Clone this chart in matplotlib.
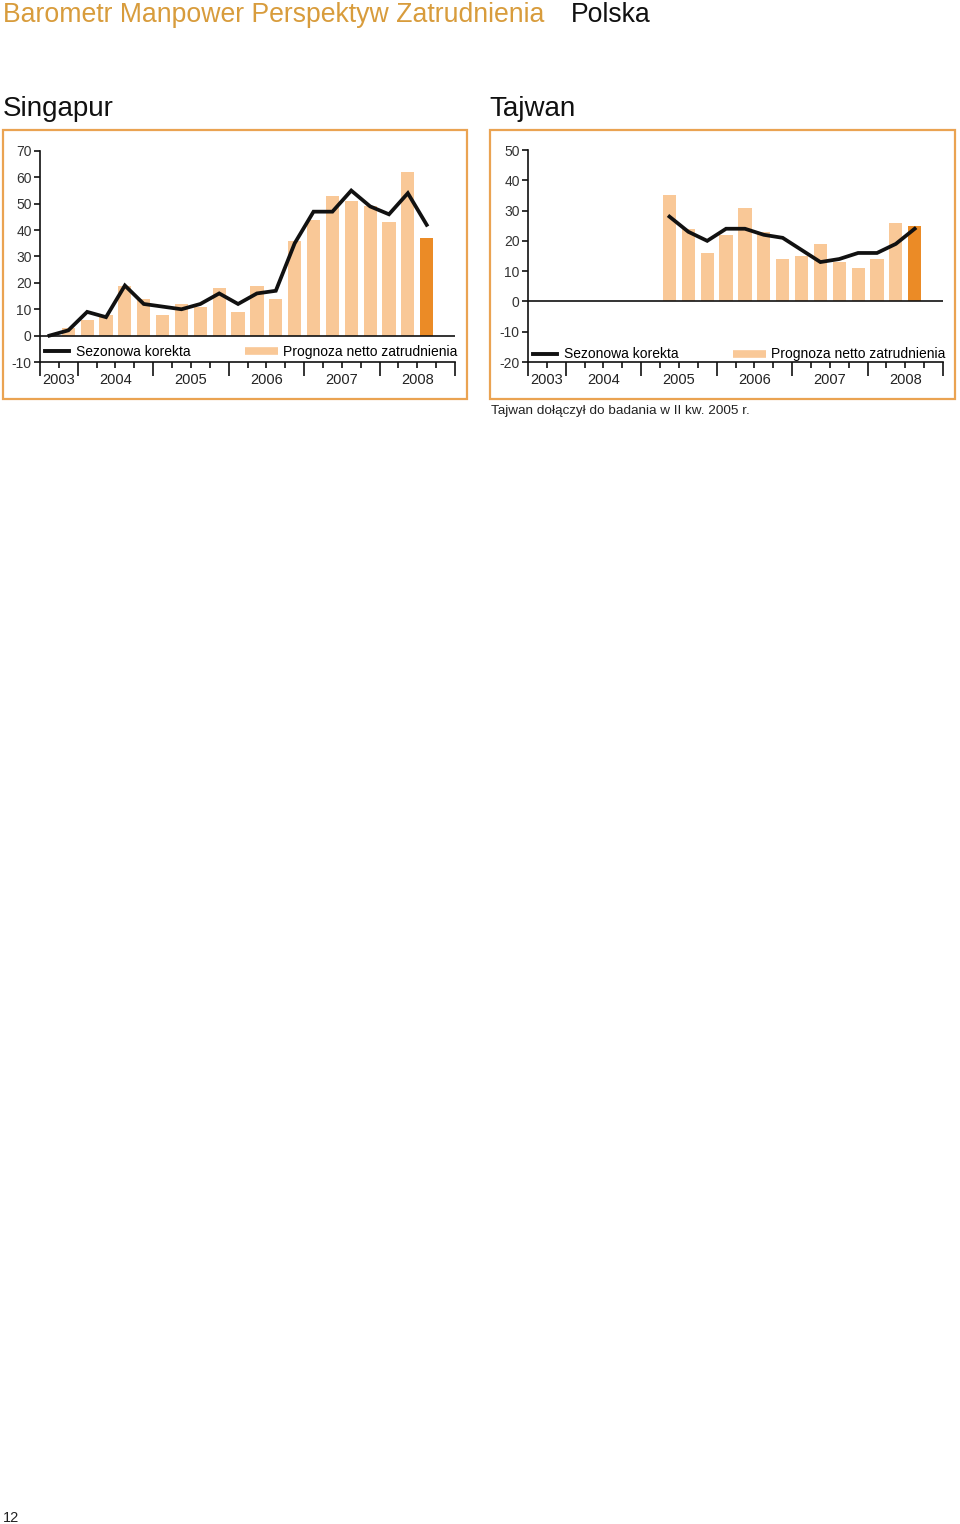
import numpy as np
import matplotlib
matplotlib.use('Agg')
import matplotlib.pyplot as plt
from matplotlib.lines import Line2D
from matplotlib.patches import Rectangle

plt.rcParams['font.family'] = ['Liberation Sans', 'DejaVu Sans']
plt.rcParams['axes.unicode_minus'] = False

# quarter slots on the x axis: 2003 Q3 .. 2008 Q4
years = ['2003', '2004', '2005', '2006', '2007', '2008']
year_quarters = [2, 4, 4, 4, 4, 4]

# Singapur, 2003 Q3 .. 2008 Q3
sg_start = 0
sg_bars = [0, 3, 6, 8, 19, 14, 8, 12, 11, 18, 9, 19, 14, 36, 44, 53, 51, 49, 43, 62, 37]
sg_line = [0, 2, 9, 7, 19, 12, 11, 10, 12, 16, 12, 16, 17, 35, 47, 47, 55, 49, 46, 54, 42]

# Tajwan, 2005 Q2 .. 2008 Q3
tw_start = 7
tw_bars = [35, 24, 16, 22, 31, 23, 14, 15, 19, 13, 11, 14, 26, 25]
tw_line = [28, 23, 20, 24, 24, 22, 21, 17, 13, 14, 16, 16, 19, 24]

PEACH = '#F9C897'
ORANGE = '#EB8B26'
BOX = '#EAA352'
GOLD = '#D89C3C'
INK = '#111111'

W, H = 960, 1524


def fx(px):
    return px / W


def fy(py):
    return 1 - py / H


def draw_panel(ax, start, bars, line, ylim, leg_y):
    n_slots = sum(year_quarters)
    x = np.arange(start, start + len(bars))
    colors = [PEACH] * (len(bars) - 1) + [ORANGE]
    ax.bar(x, bars, width=0.7, color=colors, zorder=2)
    ax.axhline(0, color=INK, lw=1.2, zorder=3)
    ax.plot(x, line, color=INK, lw=2.7, zorder=4, solid_joinstyle='miter')

    ax.set_xlim(-0.5, n_slots - 0.5)
    ax.set_ylim(*ylim)
    ax.set_yticks(np.arange(ylim[0], ylim[1] + 1, 10))
    for s in ['top', 'right']:
        ax.spines[s].set_visible(False)
    for s in ['left', 'bottom']:
        ax.spines[s].set_linewidth(1.2)
        ax.spines[s].set_color(INK)

    bounds = np.cumsum([0] + year_quarters) - 0.5
    minor = [b for b in np.arange(-0.5, n_slots) if b not in bounds]
    ax.set_xticks(bounds)
    ax.set_xticks(minor, minor=True)
    ax.set_xticklabels([])
    ax.tick_params(axis='x', which='major', length=10, width=1.2, color=INK)
    ax.tick_params(axis='x', which='minor', length=4.5, width=1.2, color=INK)
    ax.tick_params(axis='y', length=4.5, width=1.2, color=INK, pad=1.5,
                   labelsize=10, labelcolor='#333333')

    for i, yr in enumerate(years):
        c = (bounds[i] + bounds[i + 1]) / 2
        ax.annotate(yr, xy=(c, 0), xycoords=ax.get_xaxis_transform(),
                    xytext=(0, -13), textcoords='offset points',
                    ha='center', va='center', fontsize=10.5, color='#222222')

    h1 = Line2D([], [], color=INK, lw=2.8)
    h2 = Line2D([], [], color=PEACH, lw=5.5, solid_capstyle='butt')
    leg1 = ax.legend([h1], ['Sezonowa korekta'], loc='center left',
                     bbox_to_anchor=(0.012, leg_y), frameon=False,
                     handlelength=1.75, handletextpad=0.5, borderpad=0,
                     borderaxespad=0, fontsize=10)
    ax.add_artist(leg1)
    ax.legend([h2], ['Prognoza netto zatrudnienia'], loc='center right',
              bbox_to_anchor=(1.006, leg_y), frameon=False,
              handlelength=2.4, handletextpad=0.35, borderpad=0,
              borderaxespad=0, fontsize=10)


fig = plt.figure(figsize=(9.6, 15.24), dpi=100)

fig.text(fx(3), fy(22), 'Barometr Manpower Perspektyw Zatrudnienia',
         fontsize=19.2, color=GOLD, va='baseline', ha='left')
fig.text(fx(571), fy(22), 'Polska', fontsize=19.2, color=INK,
         va='baseline', ha='left')

fig.text(fx(3), fy(116), 'Singapur', fontsize=20, color=INK, va='baseline')
fig.text(fx(489), fy(116), 'Tajwan', fontsize=20, color=INK, va='baseline')

for x0, x1 in [(3, 467), (490, 955)]:
    fig.add_artist(Rectangle((fx(x0), fy(399)), (x1 - x0) / W, (399 - 130) / H,
                             transform=fig.transFigure, fill=False,
                             edgecolor=BOX, lw=1.6))

ax1 = fig.add_axes([fx(40), fy(362), 415 / W, 211 / H])
draw_panel(ax1, sg_start, sg_bars, sg_line, (-10, 70), 0.048)

ax2 = fig.add_axes([fx(528), fy(362), 415 / W, 212 / H])
draw_panel(ax2, tw_start, tw_bars, tw_line, (-20, 50), 0.036)

fig.text(fx(491), fy(414), 'Tajwan dołączył do badania w II kw. 2005 r.',
         fontsize=9.7, color='#222222', va='baseline')
fig.text(fx(3), fy(1522), '12', fontsize=10.5, color='#222222', va='baseline')

fig.savefig('out.png', dpi=100)
